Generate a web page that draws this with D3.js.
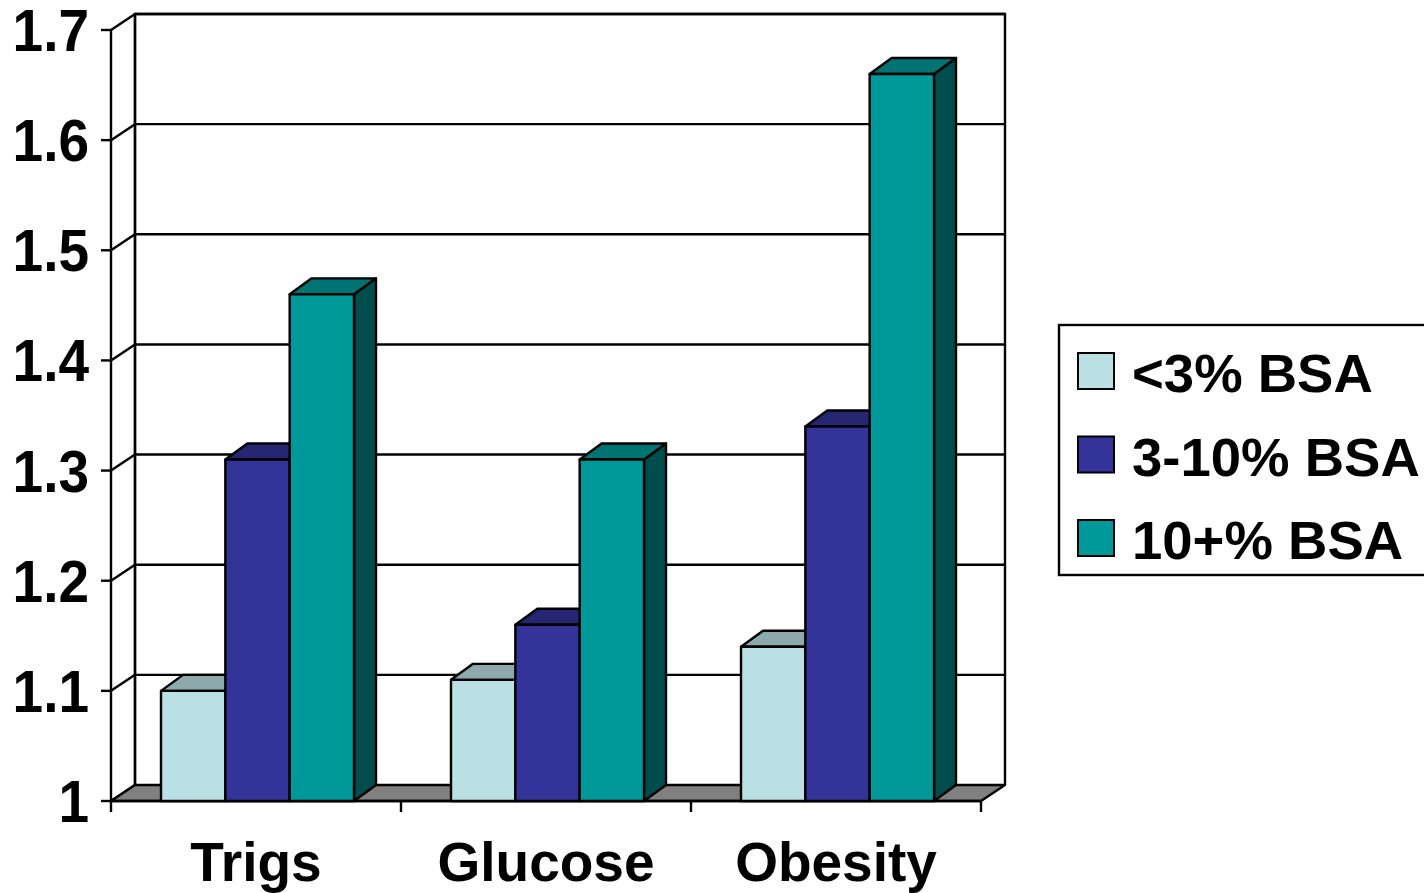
<!DOCTYPE html>
<html>
<head>
<meta charset="utf-8">
<script src="https://cdn.jsdelivr.net/npm/d3@7"></script>
<style>
  html, body { margin: 0; padding: 0; background: #fff; }
  svg { display: block; }
  text { font-family: "Liberation Sans", Arial, sans-serif; font-weight: bold; fill: #000; }
</style>
</head>
<body>
<svg id="chart" width="1424" height="893"></svg>
<script>
// Risk ratios by psoriasis extent (% body surface area)
const categories = ["Trigs", "Glucose", "Obesity"];
const seriesNames = ["<3% BSA", "3-10% BSA", "10+% BSA"];
const lowBSA  = [1.10, 1.11, 1.14];
const midBSA  = [1.31, 1.16, 1.34];
const highBSA = [1.46, 1.31, 1.66];
const yTicks = [1, 1.1, 1.2, 1.3, 1.4, 1.5, 1.6, 1.7];
const yTickLabels = ["1", "1.1", "1.2", "1.3", "1.4", "1.5", "1.6", "1.7"];

const seriesValues = [lowBSA, midBSA, highBSA];
const palette = [
  { front: "#BBE0E3", top: "#8DA9AB", side: "#6F8C8E" },
  { front: "#333399", top: "#262673", side: "#1A1A4D" },
  { front: "#009999", top: "#007373", side: "#004D4D" }
];

const svg = d3.select("#chart");

// Front plane scales
const y = d3.scaleLinear().domain([1, 1.7]).range([801, 30]);
const x0 = d3.scaleBand().domain(categories).range([111, 981]).padding(0);
const x1 = d3.scaleBand().domain(seriesNames).range([50, 243]).padding(0);

// Oblique depth offsets (walls and bars)
const WDX = 24, WDY = -16;
const BDX = 22, BDY = -16;
const SW = 2.4;

const left = x0.range()[0], right = x0.range()[1];
const base = y(1), topY = y(1.7);
const line = d3.line();

// Back wall
svg.append("path")
  .attr("d", line([[left + WDX, base + WDY], [left + WDX, topY + WDY], [right + WDX, topY + WDY], [right + WDX, base + WDY]]))
  .attr("fill", "#fff").attr("stroke", "#000").attr("stroke-width", SW);

// Gridlines: horizontal on back wall, diagonal on side wall
const grid = svg.append("g").attr("stroke", "#000").attr("stroke-width", SW).attr("fill", "none");
yTicks.forEach(t => {
  const yy = y(t);
  if (t > 1) grid.append("path").attr("d", line([[left + WDX, yy + WDY], [right + WDX, yy + WDY]]));
  grid.append("path").attr("d", line([[left, yy], [left + WDX, yy + WDY]]));
  grid.append("path").attr("d", line([[left - 10, yy], [left, yy]]));
});
// Side wall verticals
grid.append("path").attr("d", line([[left, base], [left, topY]]));
grid.append("path").attr("d", line([[left + WDX, base + WDY], [left + WDX, topY + WDY]]));

// Floor
svg.append("path")
  .attr("d", line([[left, base], [right, base], [right + WDX, base + WDY], [left + WDX, base + WDY]]) + "Z")
  .attr("fill", "#808080").attr("stroke", "#000").attr("stroke-width", SW).attr("stroke-linejoin", "round");

// Category axis ticks
const xt = svg.append("g").attr("stroke", "#000").attr("stroke-width", SW);
xt.append("path").attr("d", line([[left, base], [right, base]]));
[...categories.map(c => x0(c)), right].forEach(xx => {
  xt.append("path").attr("d", line([[xx, base], [xx, base + 11]]));
});

// Bars (drawn left to right so each front face covers its neighbour's side)
const bars = svg.append("g").attr("stroke", "#000").attr("stroke-width", SW).attr("stroke-linejoin", "round");
categories.forEach((cat, ci) => {
  seriesNames.forEach((s, si) => {
    const v = seriesValues[si][ci];
    const bx = x0(cat) + x1(s);
    const bw = x1.bandwidth();
    const by = y(v);
    const c = palette[si];
    const g = bars.append("g");
    // side face
    g.append("path")
      .attr("d", line([[bx + bw, by], [bx + bw + BDX, by + BDY], [bx + bw + BDX, base + BDY], [bx + bw, base]]) + "Z")
      .attr("fill", c.side);
    // top face
    g.append("path")
      .attr("d", line([[bx, by], [bx + BDX, by + BDY], [bx + bw + BDX, by + BDY], [bx + bw, by]]) + "Z")
      .attr("fill", c.top);
    // front face
    g.append("rect")
      .attr("x", bx).attr("y", by).attr("width", bw).attr("height", base - by)
      .attr("fill", c.front);
  });
});

// Y tick labels
svg.append("g").selectAll("text").data(yTicks).join("text")
  .attr("transform", d => `translate(89,${y(d) + 21}) scale(1,1.07)`)
  .attr("text-anchor", "end")
  .attr("font-size", 55)
  .text((d, i) => yTickLabels[i]);

// Category labels
svg.append("g").selectAll("text").data(categories).join("text")
  .attr("x", d => x0(d) + x0.bandwidth() / 2)
  .attr("y", 881)
  .attr("text-anchor", "middle")
  .attr("font-size", 55)
  .text(d => d);

// Legend
const legend = svg.append("g");
legend.append("rect")
  .attr("x", 1059).attr("y", 325).attr("width", 420).attr("height", 250)
  .attr("fill", "#fff").attr("stroke", "#000").attr("stroke-width", SW);
seriesNames.forEach((s, i) => {
  const ry = 353 + i * 83.5;
  legend.append("rect")
    .attr("x", 1078).attr("y", ry).attr("width", 36).attr("height", 36)
    .attr("fill", palette[i].front).attr("stroke", "#000").attr("stroke-width", 2);
  legend.append("text")
    .attr("x", 1132).attr("y", ry + 39)
    .attr("font-size", 54.5)
    .text(s);
});
</script>
</body>
</html>
